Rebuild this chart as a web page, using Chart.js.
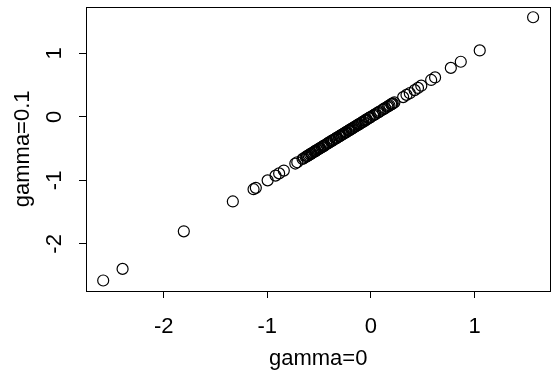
<!DOCTYPE html>
<html>
<head>
<meta charset="utf-8">
<script src="https://cdn.jsdelivr.net/npm/chart.js@4/dist/chart.umd.min.js"></script>
<style>
  html, body { margin: 0; padding: 0; background: #fff; overflow: hidden; }
  #wrap { width: 557px; height: 379px; }
</style>
</head>
<body>
<div id="wrap"><canvas id="c"></canvas></div>
<script>
// Scatter of the same series fitted with gamma=0 (x) against gamma=0.1 (y).
// R-style base plot: open circles, closed box, outward ticks, rotated y labels.

const FONT = 'Arial, "Liberation Sans", sans-serif';

const gamma0 = [
  -2.584, -2.397, -1.806, -1.333, -1.133, -1.111, -0.997, -0.921, -0.886, -0.841,
  -0.730, -0.711, -0.660, -0.648, -0.630, -0.618, -0.601, -0.588, -0.577, -0.559,
  -0.547, -0.533, -0.519, -0.508, -0.491, -0.474, -0.463, -0.447, -0.431, -0.418,
  -0.402, -0.386, -0.371, -0.358, -0.341, -0.327, -0.309, -0.296, -0.281, -0.262,
  -0.250, -0.236, -0.219, -0.204, -0.191, -0.173, -0.160, -0.142, -0.126, -0.109,
  -0.093, -0.074, -0.058, -0.041, -0.021, -0.002, 0.021, 0.043, 0.064, 0.088,
  0.112, 0.137, 0.158, 0.179, 0.196, 0.211, 0.226, 0.311, 0.343, 0.375,
  0.422, 0.454, 0.486, 0.581, 0.619, 0.771, 0.867, 1.050, 1.565,
  -0.612, -0.571, -0.538, -0.497, -0.455, -0.411, -0.379, -0.334, -0.302, -0.271,
  -0.243, -0.212, -0.184, -0.151, -0.118, -0.084, -0.049, -0.013, 0.032, 0.074,
  0.124, 0.168, 0.203
];
const gamma01 = [
  -2.576, -2.393, -1.802, -1.332, -1.139, -1.118, -1.000, -0.925, -0.890, -0.846,
  -0.735, -0.715, -0.664, -0.652, -0.633, -0.621, -0.604, -0.591, -0.580, -0.562,
  -0.549, -0.535, -0.521, -0.510, -0.493, -0.476, -0.465, -0.449, -0.432, -0.419,
  -0.403, -0.387, -0.372, -0.359, -0.342, -0.328, -0.310, -0.297, -0.282, -0.263,
  -0.251, -0.237, -0.220, -0.205, -0.192, -0.174, -0.161, -0.143, -0.127, -0.110,
  -0.094, -0.075, -0.059, -0.041, -0.021, -0.002, 0.021, 0.043, 0.064, 0.088,
  0.112, 0.137, 0.158, 0.179, 0.196, 0.211, 0.226, 0.310, 0.345, 0.372,
  0.420, 0.455, 0.490, 0.580, 0.620, 0.770, 0.867, 1.045, 1.567,
  -0.615, -0.574, -0.540, -0.499, -0.457, -0.412, -0.380, -0.335, -0.303, -0.272,
  -0.244, -0.213, -0.185, -0.152, -0.119, -0.085, -0.049, -0.013, 0.032, 0.074,
  0.124, 0.168, 0.203
];

const xTicks = [-2, -1, 0, 1];
const yTicks = [-2, -1, 0, 1];
const xLabel = "gamma=0";
const yLabel = "gamma=0.1";

// Box round the plot region plus y tick labels turned parallel to the axis.
const rBox = {
  id: "rBox",
  afterDraw(chart) {
    const { ctx, chartArea: a, scales } = chart;
    ctx.save();
    ctx.strokeStyle = "#000";
    ctx.lineWidth = 1;
    ctx.strokeRect(Math.round(a.left) + 0.5, Math.round(a.top) + 0.5,
      Math.round(a.right - a.left), Math.round(a.bottom - a.top));
    ctx.fillStyle = "#000";
    ctx.font = `22px ${FONT}`;
    ctx.textAlign = "center";
    ctx.textBaseline = "alphabetic";
    yTicks.forEach((v) => {
      ctx.save();
      ctx.translate(61, scales.y.getPixelForValue(v));
      ctx.rotate(-Math.PI / 2);
      ctx.fillText(String(v), 0, 0);
      ctx.restore();
    });
    ctx.restore();
  },
};

new Chart(document.getElementById("c"), {
  type: "scatter",
  data: {
    datasets: [{
      data: gamma0.map((x, i) => ({ x, y: gamma01[i] })),
      pointStyle: "circle",
      pointRadius: 5.5,
      pointHoverRadius: 5.5,
      borderColor: "#000",
      borderWidth: 1.2,
      backgroundColor: "rgba(0,0,0,0)",
    }],
  },
  options: {
    responsive: true,
    maintainAspectRatio: false,
    animation: false,
    layout: { padding: { top: 5, right: 1, left: 0, bottom: 0 } },
    plugins: { legend: { display: false }, tooltip: { enabled: false } },
    scales: {
      x: {
        type: "linear",
        min: -2.75,
        max: 1.731,
        afterBuildTicks: (s) => { s.ticks = xTicks.map((value) => ({ value })); },
        afterFit: (s) => { s.height = 88; },
        border: { display: false },
        grid: { drawOnChartArea: false, drawTicks: true, tickLength: 7, color: "#000", lineWidth: 1 },
        ticks: { color: "#000", font: { size: 22, family: FONT }, padding: 16, maxRotation: 0, autoSkip: false },
        title: { display: true, text: xLabel, color: "#000", font: { size: 22, family: FONT }, padding: { top: 0, bottom: 7 } },
      },
      y: {
        type: "linear",
        min: -2.741,
        max: 1.733,
        afterBuildTicks: (s) => { s.ticks = yTicks.map((value) => ({ value })); },
        afterFit: (s) => { s.width = 86; },
        border: { display: false },
        grid: { drawOnChartArea: false, drawTicks: true, tickLength: 7, color: "#000", lineWidth: 1 },
        // drawn by rBox, rotated; kept tiny so they add no edge padding
        ticks: { color: "rgba(0,0,0,0)", font: { size: 1, family: FONT }, autoSkip: false },
        title: { display: true, text: yLabel, color: "#000", font: { size: 22, family: FONT }, padding: { top: 10, bottom: 0 } },
      },
    },
  },
  plugins: [rBox],
});
</script>
</body>
</html>
